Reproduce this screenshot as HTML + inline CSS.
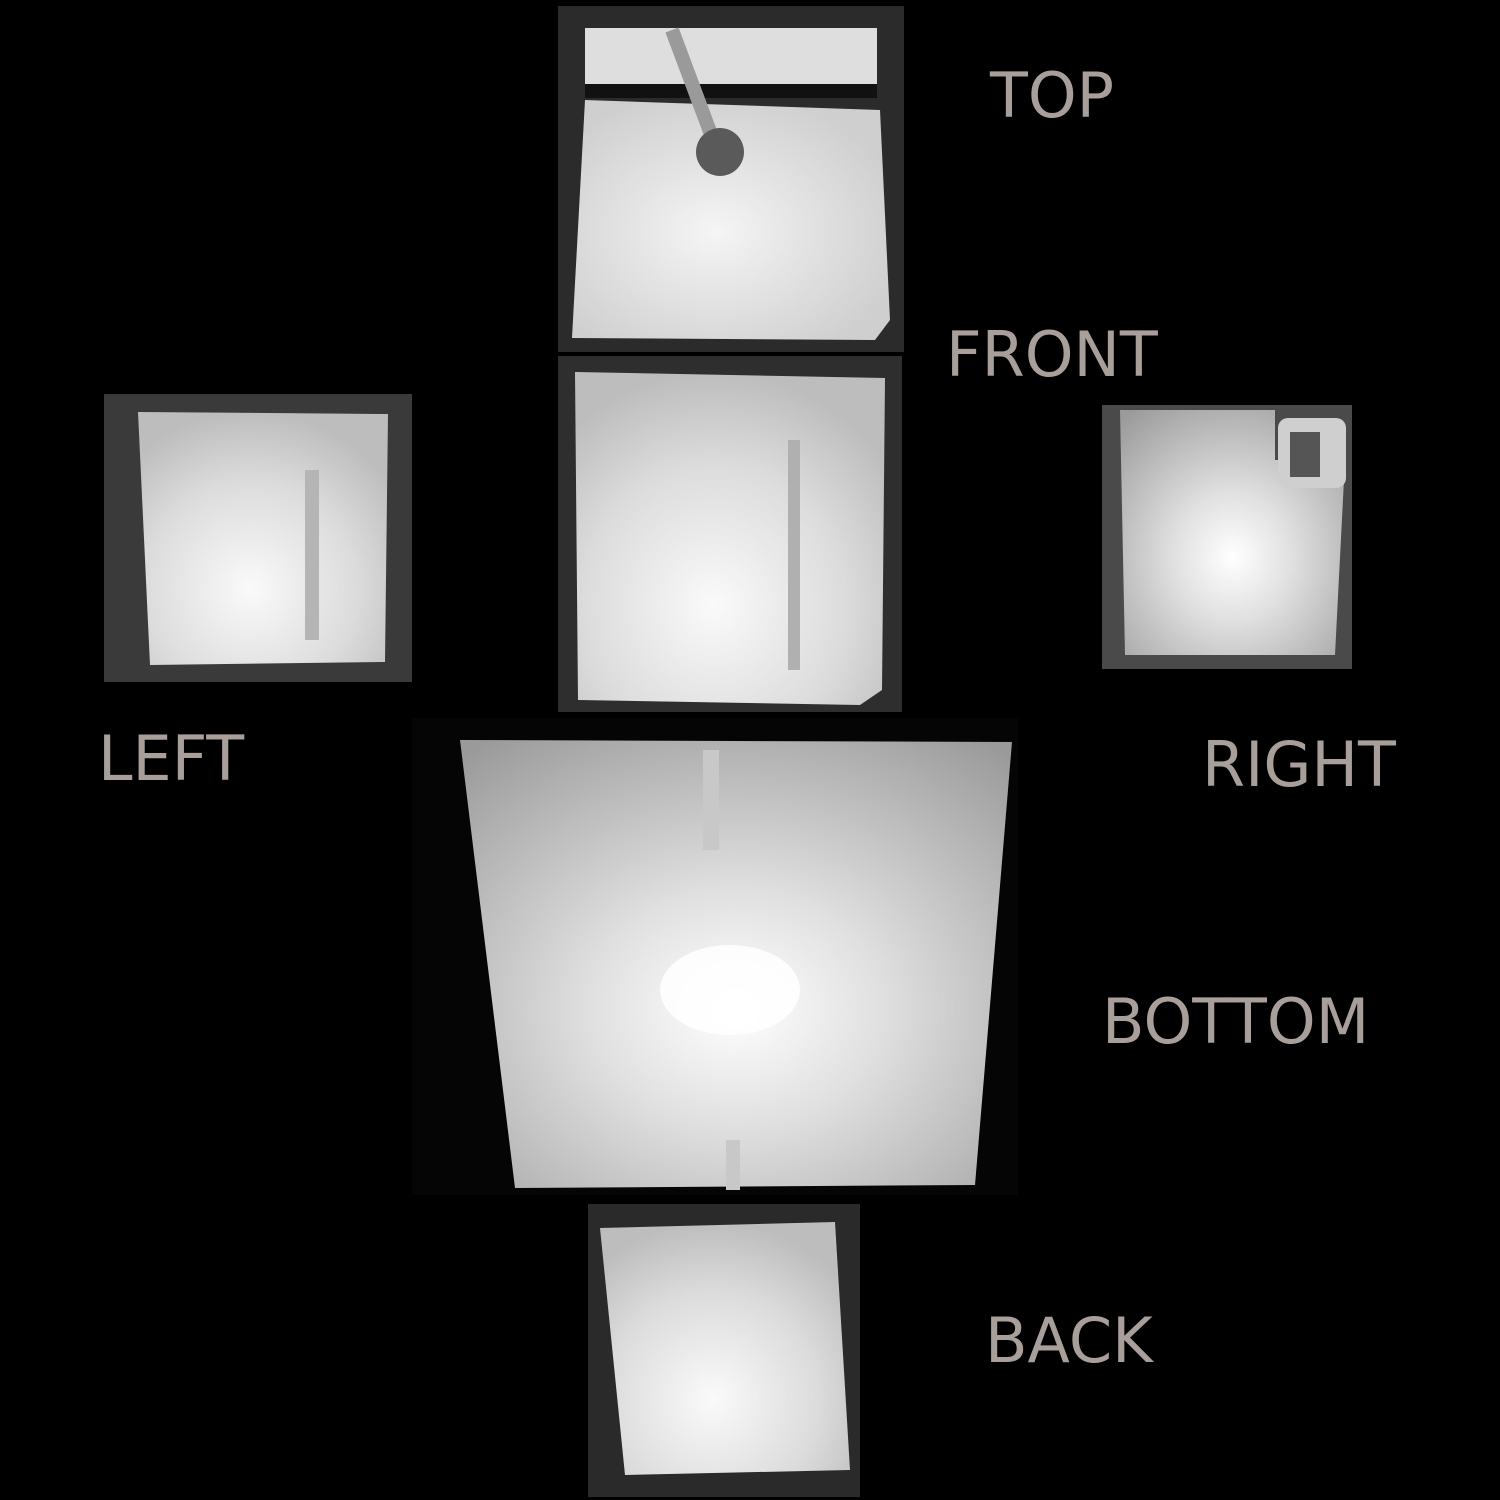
<!DOCTYPE html>
<html><head><meta charset="utf-8"><style>
html,body{margin:0;padding:0;background:#000;}
svg{display:block}
text{font-family:"DejaVu Sans","Liberation Sans",sans-serif;font-size:62px;fill:#a89e9a}
</style></head><body>
<svg width="1500" height="1500" viewBox="0 0 1500 1500">
<defs>
<radialGradient id="glowA" cx="0.45" cy="0.7" r="0.7"><stop offset="0" stop-color="#fafafa"/><stop offset="0.6" stop-color="#dcdcdc"/><stop offset="1" stop-color="#bdbdbd"/></radialGradient>
<radialGradient id="glowB" cx="0.5" cy="0.6" r="0.75"><stop offset="0" stop-color="#ffffff"/><stop offset="0.35" stop-color="#e0e0e0"/><stop offset="1" stop-color="#9a9a9a"/></radialGradient>
<radialGradient id="glowC" cx="0.45" cy="0.55" r="0.6"><stop offset="0" stop-color="#f5f5f5"/><stop offset="1" stop-color="#cfcfcf"/></radialGradient>
</defs>
<rect width="1500" height="1500" fill="#000"/>

<g>
<rect x="558" y="6" width="346" height="346" fill="#2b2b2b"/>
<rect x="585" y="28" width="292" height="56" fill="#dedede"/>
<rect x="585" y="84" width="292" height="14" fill="#111"/>
<polygon points="585,100 880,110 890,320 875,340 572,338" fill="url(#glowC)"/>
<line x1="672" y1="30" x2="715" y2="145" stroke="#9a9a9a" stroke-width="14"/>
<circle cx="720" cy="152" r="24" fill="#5a5a5a"/>
</g>

<g>
<rect x="558" y="356" width="344" height="356" fill="#2e2e2e"/>
<polygon points="575,372 885,378 882,690 860,705 578,700" fill="url(#glowA)"/>
<rect x="788" y="440" width="12" height="230" fill="#b0b0b0"/>
</g>

<g>
<rect x="104" y="394" width="308" height="288" fill="#3a3a3a"/>
<polygon points="138,412 388,414 385,662 150,665" fill="url(#glowA)"/>
<rect x="305" y="470" width="14" height="170" fill="#b5b5b5"/>
</g>

<g>
<rect x="1102" y="405" width="250" height="264" fill="#4a4a4a"/>
<polygon points="1120,410 1275,410 1275,460 1345,460 1335,655 1125,655" fill="url(#glowB)"/>
<rect x="1278" y="418" width="68" height="70" rx="10" fill="#cfcfcf"/>
<rect x="1290" y="432" width="30" height="45" fill="#555"/>
</g>

<g>
<rect x="412" y="718" width="606" height="477" fill="#050505"/>
<polygon points="460,740 1012,742 975,1185 515,1188" fill="url(#glowB)"/>
<rect x="703" y="750" width="16" height="100" fill="#c8c8c8"/>
<rect x="726" y="1140" width="14" height="50" fill="#c8c8c8"/>
<ellipse cx="730" cy="990" rx="70" ry="45" fill="#ffffff" opacity="0.85"/>
</g>

<g>
<rect x="588" y="1204" width="272" height="293" fill="#2a2a2a"/>
<polygon points="600,1228 835,1222 850,1470 625,1475" fill="url(#glowA)"/>
</g>

<text x="990" y="117">TOP</text>
<text x="946" y="376">FRONT</text>
<text x="98" y="780">LEFT</text>
<text x="1202" y="786">RIGHT</text>
<text x="1102" y="1043">BOTTOM</text>
<text x="985" y="1362">BACK</text>
</svg>
</body></html>
